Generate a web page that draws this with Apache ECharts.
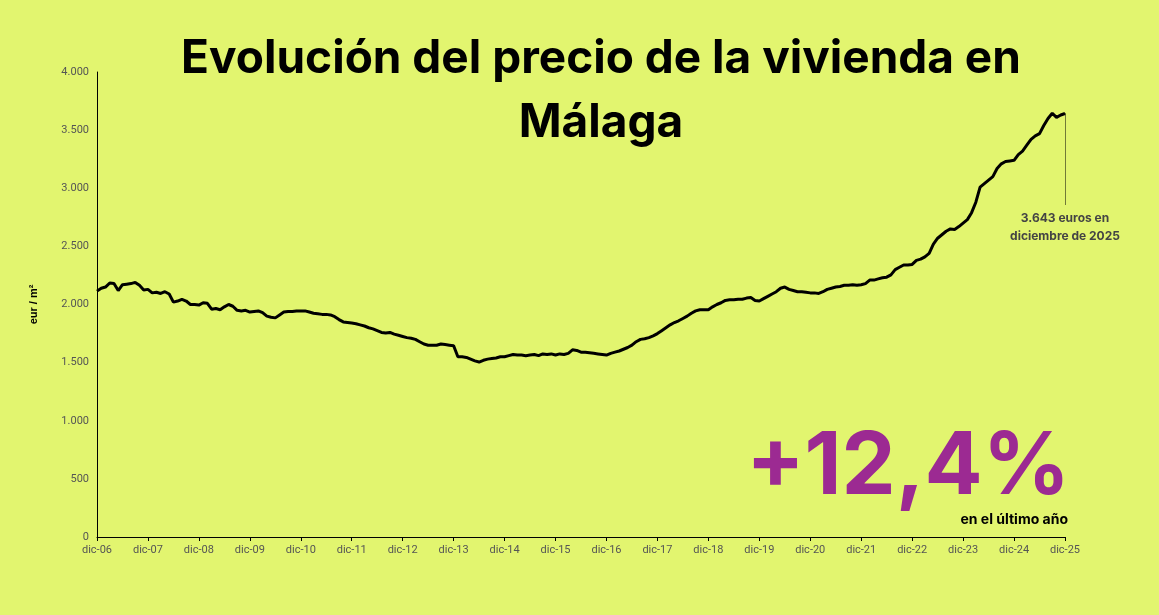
<!DOCTYPE html>
<html>
<head>
<meta charset="utf-8">
<script src="https://cdn.jsdelivr.net/npm/echarts@6/dist/echarts.min.js"></script>
<style>html,body{margin:0;background:#e2f56f}#c{width:1159px;height:615px}</style>
</head>
<body>
<div id="c"></div>
<script>
// precio medio eur/m2, mensual, dic-06 .. dic-25
var years = ['06','07','08','09','10','11','12','13','14','15','16','17','18','19','20','21','22','23','24','25'];
var first = [2115];
var y2007 = [2140,2150,2185,2180,2120,2170,2175,2180,2190,2165,2125,2130];
var y2008 = [2100,2105,2095,2110,2090,2020,2030,2045,2030,2000,2000,1995];
var y2009 = [2015,2010,1960,1965,1955,1980,2000,1985,1950,1945,1950,1935];
var y2010 = [1940,1945,1930,1900,1890,1885,1910,1935,1940,1940,1945,1945];
var y2011 = [1945,1935,1925,1920,1915,1915,1910,1895,1870,1850,1845,1840];
var y2012 = [1835,1825,1815,1800,1790,1775,1760,1755,1760,1745,1735,1725];
var y2013 = [1715,1710,1700,1680,1660,1650,1650,1650,1660,1655,1650,1645];
var y2014 = [1550,1550,1545,1530,1515,1505,1520,1530,1535,1540,1550,1550];
var y2015 = [1560,1570,1565,1565,1560,1565,1570,1560,1575,1570,1575,1565];
var y2016 = [1575,1570,1580,1610,1605,1590,1590,1585,1580,1575,1570,1565];
var y2017 = [1580,1590,1600,1615,1630,1650,1680,1700,1705,1715,1730,1750];
var y2018 = [1775,1800,1825,1845,1860,1880,1900,1925,1945,1955,1955,1955];
var y2019 = [1980,2000,2015,2035,2040,2040,2045,2045,2055,2060,2035,2030];
var y2020 = [2050,2070,2090,2110,2140,2150,2130,2120,2110,2110,2105,2100];
var y2021 = [2100,2095,2110,2130,2140,2150,2155,2165,2165,2170,2165,2170];
var y2022 = [2180,2210,2210,2220,2230,2235,2255,2300,2320,2340,2340,2345];
var y2023 = [2380,2390,2410,2440,2520,2570,2600,2630,2650,2645,2670,2700];
var y2024 = [2730,2790,2880,3010,3040,3070,3100,3170,3210,3230,3235,3240];
var y2025 = [3290,3320,3370,3420,3450,3470,3540,3600,3645,3610,3630,3643];

var values = first.concat(y2007,y2008,y2009,y2010,y2011,y2012,y2013,y2014,y2015,y2016,y2017,y2018,y2019,y2020,y2021,y2022,y2023,y2024,y2025);
var mes = ['ene','feb','mar','abr','may','jun','jul','ago','sep','oct','nov','dic'];
var cats = ['dic-06'];
for (var i = 1; i < years.length; i++) {
  for (var m = 0; m < 12; m++) cats.push(mes[m] + '-' + years[i]);
}
var last = cats.length - 1;

var chart = echarts.init(document.getElementById('c'));
chart.setOption({
  backgroundColor: '#e2f56f',
  animation: false,
  title: {
    text: 'Evolución del precio de la vivienda en\nMálaga',
    left: 596, top: 22, textAlign: 'center',
    textStyle: {fontFamily: 'Inter', fontWeight: 'bold', fontSize: 46, lineHeight: 64, color: '#000'}
  },
  grid: {left: 97, right: 94, top: 72, bottom: 78},
  xAxis: {
    type: 'category', data: cats, boundaryGap: false,
    axisLine: {lineStyle: {color: '#000'}},
    axisTick: {interval: 11, length: 4, lineStyle: {color: '#000'}},
    axisLabel: {interval: 11, color: '#555', fontSize: 11, fontFamily: 'Roboto'}
  },
  yAxis: {
    type: 'value', min: 0, max: 4000, interval: 500,
    name: 'eur / m²', nameLocation: 'middle', nameGap: 58, nameRotate: 90,
    nameTextStyle: {fontWeight: 'bold', fontSize: 11, color: '#000'},
    splitLine: {show: false},
    axisLine: {show: true, lineStyle: {color: '#000'}},
    axisLabel: {color: '#555', fontSize: 11, fontFamily: 'Roboto',
      formatter: function (v) { return v >= 1000 ? Math.floor(v/1000) + '.' + String(v%1000).padStart(3,'0') : v; }}
  },
  series: [{
    type: 'line', data: values, showSymbol: false,
    lineStyle: {color: '#000', width: 3},
    markLine: {
      silent: true, symbol: ['none','none'], label: {show: false},
      lineStyle: {type: 'dotted', color: '#000', width: 1},
      data: [[{coord: [last, 3643]}, {coord: [last, 2860]}]]
    }
  }],
  graphic: [
    {type: 'text', left: 'center', x: 0, style: {text: '', fill: '#000'}},
    {type: 'text', x: 1065, y: 209, style: {text: '3.643 euros en\ndiciembre de 2025', align: 'center',
      fill: '#444', font: 'bold 12px Inter', lineHeight: 18}},
    {type: 'text', x: 1070, y: 425, style: {text: '+12,4%', align: 'right',
      fill: '#9c2a92', font: 'bold 86px Inter'}},
    {type: 'text', x: 1068, y: 513, style: {text: 'en el último año', align: 'right',
      fill: '#000', font: 'bold 14px Inter'}}
  ]
});
</script>
</body>
</html>
